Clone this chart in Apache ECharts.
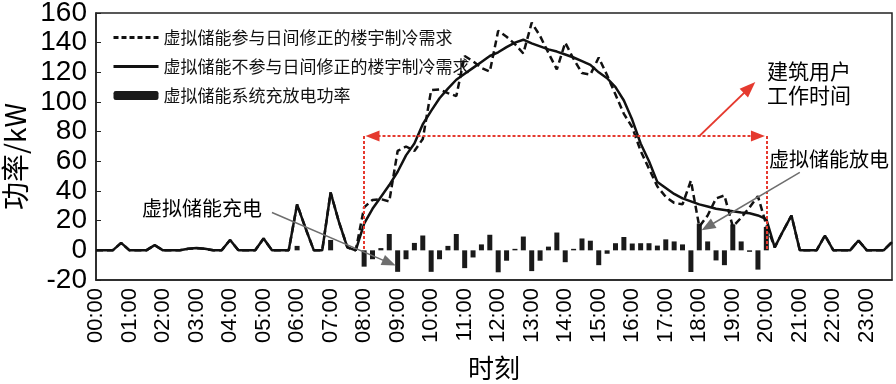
<!DOCTYPE html>
<html><head><meta charset="utf-8">
<script src="https://cdn.jsdelivr.net/npm/echarts/dist/echarts.min.js"></script>
<style>html,body{margin:0;padding:0;background:#fff}#c{width:896px;height:384px}</style>
</head><body><div id="c"></div>
<script>
// 15-minute time categories (00:00 ... 23:45)
const categories = [];
for (let h = 0; h < 24; h++) for (const m of ['00','15','30','45']) categories.push((h < 10 ? '0' + h : '' + h) + ':' + m);

const seriesNames = ['虚拟储能参与日间修正的楼宇制冷需求', '虚拟储能不参与日间修正的楼宇制冷需求', '虚拟储能系统充放电功率'];

const demandWithVS = [
  0,0,0,5,0,0,0,3.5,
  0,0,0,1,1.5,1,0,0,
  7,0,0,0,8,0,0,0,
  31,15,0,0,39,19,2,0,
  29,34,34.5,33,67,70,67,75,
  108,108.5,106,104,131,127.5,123,120.5,
  148,144,139,132.7,153.5,144.5,133,122,
  140,129,119.5,118.5,130,118,105,92,
  83,67,55,43,36,32,31,47,
  16,23.5,35,37,16,22,29,36.5,
  17,2,13,23.5,0,0,0,10,
  0,0,0,6.6,0,0,0,5.6
];
const demandNoVS = [
  0,0,0,5,0,0,0,3.5,
  0,0,0,1,1.5,1,0,0,
  7,0,0,0,8,0,0,0,
  31,15,0,0,39,19,2,0,
  18,28,36,44,53,64,72,85,
  94,102.5,109,115,119,123,127,131,
  133.5,137,140,142,139.5,137.5,135.5,134,
  132,130,127.5,125,120,116,110,101,
  88,72,60,46,42,38,35,33,
  31,29.5,28,27.2,26.3,25.5,25,23.5,
  21,2,13,23.5,0,0,0,10,
  0,0,0,6.6,0,0,0,5.6
];
const vsPower = [
  0,0,0,0,0,0,0,0,
  0,0,0,0,0,0,0,0,
  0,0,0,0,0,0,0,0,
  3,0,0,0,7,0,0,0,
  -11,-6,1.5,11,-14.5,-6,5,10,
  -14.5,-6,3,11,-12,-4.8,4,10.5,
  -14.8,-7,1,9.3,-14,-7,2.5,12,
  -8,1,8,6.5,-10,-2.3,4.8,9,
  4.6,4.8,4.8,3.2,7.4,6,4,-14.6,
  18,6,-6.8,-10,17.5,6,-1,-13,
  15.8,0,0,0,0,0,0,0,
  0,0,0,0,0,0,0,0
];

const yTicks = { min: -20, max: 160, interval: 20 };
const FONT = '"Liberation Sans", "Noto Sans CJK SC", sans-serif';
const CJK = '"Noto Sans CJK SC", sans-serif';
const RED = '#e53a2f';
const GREY = '#6e6e6e';

const chart = echarts.init(document.getElementById('c'), null, { renderer: 'canvas' });
chart.setOption({
  animation: false,
  backgroundColor: '#fff',
  grid: { left: 96, right: 4, top: 13, bottom: 104, show: true, borderColor: '#222', borderWidth: 1.5, containLabel: false, outerBoundsMode: 'none' },
  legend: {
    orient: 'vertical', left: 107, top: 24, itemGap: 12, itemWidth: 45, itemHeight: 9,
    data: [
      { name: seriesNames[0], itemStyle: { opacity: 0 }, lineStyle: { width: 3, color: '#111', type: [5, 3] } },
      { name: seriesNames[1], itemStyle: { opacity: 0 }, lineStyle: { width: 3, color: '#111' } },
      { name: seriesNames[2] }
    ],
    textStyle: { fontFamily: CJK, fontSize: 17, color: '#111' },
    selectedMode: false
  },
  xAxis: {
    type: 'category', data: categories, boundaryGap: false,
    axisLine: { onZero: false, lineStyle: { color: '#222', width: 1.5 } },
    axisTick: { show: false },
    axisLabel: { interval: 3, rotate: 90, fontSize: 22, fontFamily: FONT, color: '#000', margin: 8 },
    name: '时刻', nameLocation: 'middle', nameGap: 75,
    nameTextStyle: { fontFamily: CJK, fontSize: 26, color: '#000' },
    splitLine: { show: false }
  },
  yAxis: {
    type: 'value', min: yTicks.min, max: yTicks.max, interval: yTicks.interval,
    axisLine: { show: true, lineStyle: { color: '#222', width: 1.5 } },
    axisTick: { show: true, inside: true, length: 5, lineStyle: { color: '#222' } },
    axisLabel: { fontSize: 28, fontFamily: FONT, color: '#000', margin: 9 },
    splitLine: { show: false },
    name: '功率/kW', nameLocation: 'middle', nameGap: 66, nameRotate: 90,
    nameTextStyle: { fontFamily: CJK, fontSize: 28, color: '#000', padding: [0, 20, 0, 0] }
  },
  series: [
    { name: seriesNames[2], type: 'bar', data: vsPower, barWidth: 5, itemStyle: { color: '#1a1a1a' }, z: 2 },
    { name: seriesNames[0], type: 'line', data: demandWithVS, symbol: 'none', z: 3,
      itemStyle: { color: '#111' },
      lineStyle: { color: '#111', width: 2.5, type: [7, 4] } },
    { name: seriesNames[1], type: 'line', data: demandNoVS, symbol: 'none', z: 4,
      itemStyle: { color: '#111' },
      lineStyle: { color: '#111', width: 2.5 } },
    { type: 'line', data: [], z: 6, silent: true,
      markLine: {
        silent: true, animation: false, label: { show: false },
        lineStyle: { color: RED, width: 2, type: [3, 2] },
        data: [
          [ { coord: [32.835, 77], symbol: 'triangle', symbolSize: [11, 14] }, { coord: [79.165, 77], symbol: 'triangle', symbolSize: [11, 14] } ],
          [ { coord: [32, 77], symbol: 'none' }, { coord: [32, 0], symbol: 'none' } ],
          [ { coord: [80, 77], symbol: 'none' }, { coord: [80, 0], symbol: 'none' } ],
          [ { coord: [71.8, 77], symbol: 'none', lineStyle: { type: 'solid', width: 2, color: RED } },
            { coord: [77.62, 109.7], symbol: 'triangle', symbolSize: [12, 16] } ]
        ]
      }
    },
    { type: 'line', data: [], z: 6, silent: true,
      markLine: {
        silent: true, animation: false, label: { show: false },
        lineStyle: { color: GREY, width: 1.5, type: 'solid' },
        data: [
          [ { coord: [20.8, 25.5], symbol: 'none' }, { coord: [34.63, -8.42], symbol: 'triangle', symbolSize: [11, 14] } ],
          [ { coord: [84.2, 52.5], symbol: 'none' }, { coord: [73.22, 15.9], symbol: 'triangle', symbolSize: [11, 14] } ]
        ]
      }
    }
  ],
  graphic: [
    { type: 'text', left: 767, top: 61, style: { text: '建筑用户', font: '21px ' + CJK, fill: '#000' } },
    { type: 'text', left: 767, top: 85, style: { text: '工作时间', font: '21px ' + CJK, fill: '#000' } },
    { type: 'text', left: 769, top: 149, style: { text: '虚拟储能放电', font: '20px ' + CJK, fill: '#000' } },
    { type: 'text', left: 142, top: 198, style: { text: '虚拟储能充电', font: '20px ' + CJK, fill: '#000' } }
  ]
});
</script></body></html>
